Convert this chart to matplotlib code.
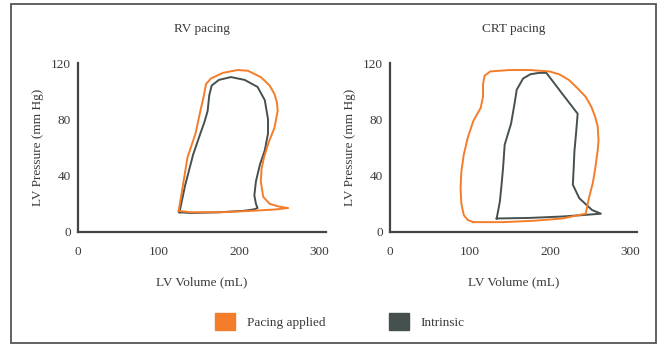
import matplotlib.pyplot as plt
from matplotlib.patches import Rectangle, Patch

plt.rcParams["font.family"] = ["Liberation Serif", "DejaVu Serif"]

orange = "#F47D2A"
dark = "#46504E"
text_c = "#3a3a3a"

# RV pacing loops (volume mL, pressure mmHg)
rv_paced_v = [125, 140, 175, 215, 245, 261, 250, 238, 230, 227, 228, 231, 237, 244, 248, 247, 244,
              238, 227, 211, 198, 180, 165, 159, 156, 152, 146, 136, 130, 125]
rv_paced_p = [15, 14, 14, 15, 16, 17, 18, 20, 25, 36, 45, 53, 64, 74, 86, 92, 98,
              104, 110, 114.5, 115, 113, 109, 105, 96, 86, 70, 53, 32, 15]
rv_intr_v = [126, 140, 175, 205, 218, 223, 221, 219, 221, 226, 232, 236, 236, 232,
             223, 207, 190, 175, 166, 163, 161, 157, 152, 143, 133, 126]
rv_intr_p = [14, 13.5, 14, 15, 16, 17, 20, 26, 36, 48, 58, 70, 80, 93.6,
             103, 108, 110, 108, 104, 97, 86, 78, 70, 55, 33, 14]

# CRT pacing loops
crt_paced_v = [104, 141, 180, 215, 244, 248, 253, 256, 259, 260, 259, 256, 251, 244, 234, 223,
               211, 199, 175, 149, 125, 118, 116, 116, 113, 104, 97, 92, 89, 88, 89, 92, 97, 104]
crt_paced_p = [7, 7, 8, 9.6, 13, 24, 35, 45.5, 58, 65, 75, 81.5, 89, 96, 102, 108,
               112, 114, 115, 115, 114, 111, 105, 96, 88, 79, 67, 55, 43, 31, 20, 12, 8.5, 7]
crt_intr_v = [133, 174, 215, 240, 263, 252, 236, 228, 229, 230, 232, 234, 215, 195,
              186, 175, 166, 158, 156, 151, 143, 141, 139, 137, 133]
crt_intr_p = [9.6, 10, 11, 12, 13, 15.6, 24, 33.6, 45, 57.5, 70, 84, 98, 113,
              113, 112, 109, 101, 93.5, 77, 62, 45.5, 33, 21.6, 9.6]

fig = plt.figure(figsize=(6.65, 3.45), dpi=100)
fig.patches.append(Rectangle((11 / 665, 2.5 / 345), 644.5 / 665, 339 / 345,
                             transform=fig.transFigure, fill=False,
                             edgecolor="#555555", linewidth=1.3))

panels = [
    ("RV pacing", [78 / 665, 113 / 345, 248 / 665, 169 / 345],
     rv_paced_v, rv_paced_p, rv_intr_v, rv_intr_p),
    ("CRT pacing", [390 / 665, 113 / 345, 247 / 665, 169 / 345],
     crt_paced_v, crt_paced_p, crt_intr_v, crt_intr_p),
]

fs = 9.5
for title, rect, pv, pp, iv, ip in panels:
    ax = fig.add_axes(rect)
    ax.plot(iv, ip, color=dark, linewidth=1.4)
    ax.plot(pv, pp, color=orange, linewidth=1.4)
    ax.set_xlim(0, 308)
    ax.set_ylim(0, 120)
    ax.set_xticks([0, 100, 200, 300])
    ax.set_yticks([0, 40, 80, 120])
    ax.tick_params(length=0, labelsize=fs, colors=text_c)
    ax.tick_params(axis="x", pad=10)
    ax.tick_params(axis="y", pad=5)
    for s in ["top", "right"]:
        ax.spines[s].set_visible(False)
    for s in ["left", "bottom"]:
        ax.spines[s].set_color("#444444")
        ax.spines[s].set_linewidth(1.6)
    ax.set_xlabel("LV Volume (mL)", fontsize=fs, color=text_c, labelpad=13)
    ax.set_ylabel("LV Pressure (mm Hg)", fontsize=fs, color=text_c, labelpad=5)
    ax.set_title(title, fontsize=fs, color=text_c, pad=22)

handles = [Patch(facecolor=orange, edgecolor=orange, label="Pacing applied"),
           Patch(facecolor=dark, edgecolor=dark, label="Intrinsic")]
fig.legend(handles=handles, loc="center", bbox_to_anchor=(0.511, 0.068), ncol=2,
           frameon=False, fontsize=fs, handlelength=1.5, handleheight=1.6,
           columnspacing=4.8, handletextpad=0.9, labelcolor=text_c)

fig.savefig("out.png", dpi=100)
